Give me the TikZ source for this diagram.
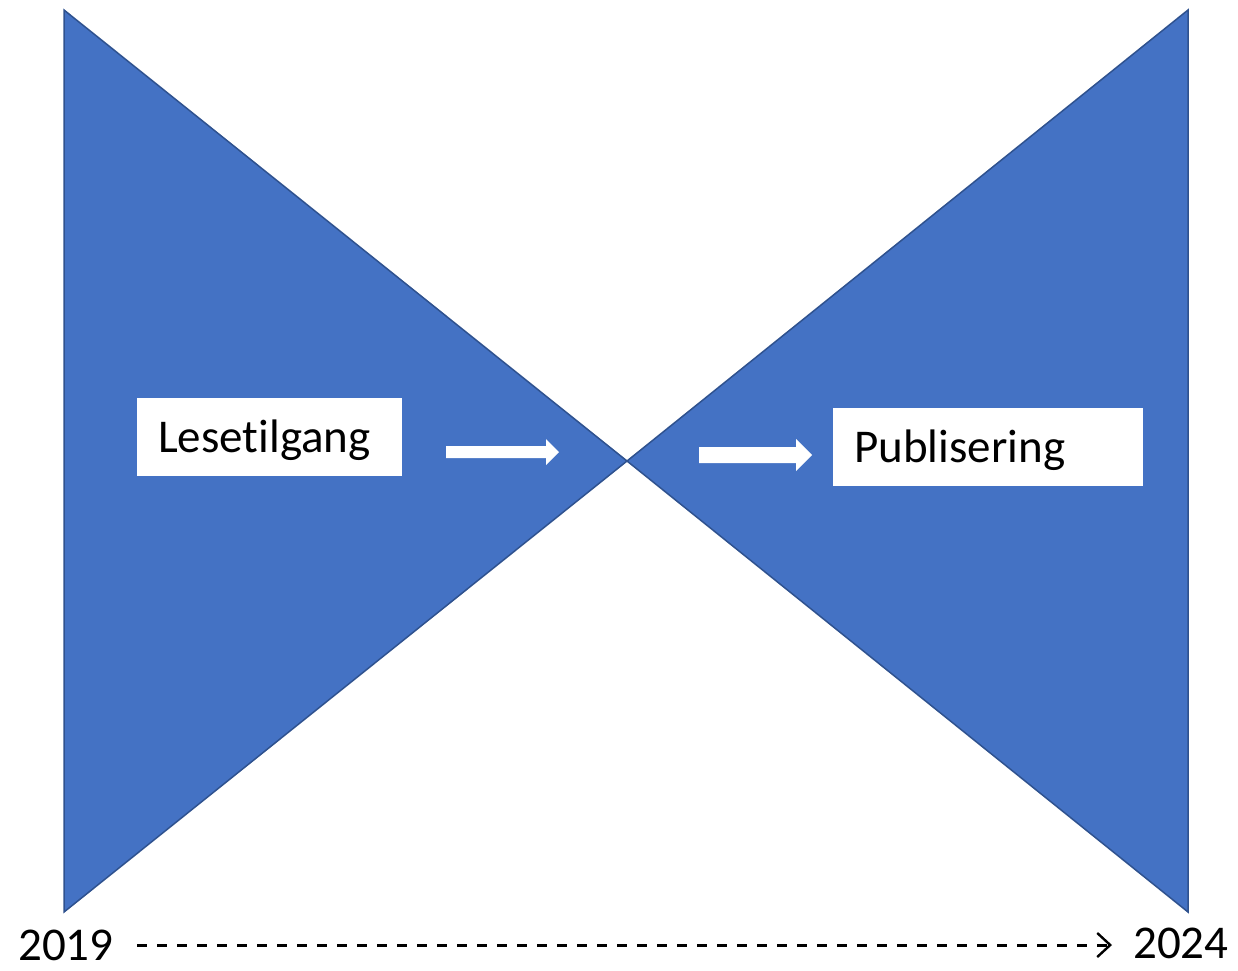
\documentclass[tikz,border=0pt]{standalone}
\usepackage{fontspec}
\setmainfont[Ligatures=NoCommon]{Carlito}
\usetikzlibrary{arrows.meta}
\definecolor{tri}{HTML}{4472C4}
\definecolor{triedge}{HTML}{2F528F}
\begin{document}
\begin{tikzpicture}[x=1pt,y=-1pt,
  tri/.style={fill=tri,draw=triedge,line width=1.5pt,line join=miter},
  boxtext/.style={anchor=base west,inner sep=0pt,font=\fontsize{47}{56}\selectfont},
  arr/.style={fill=white,draw=none},
  year/.style={inner sep=0pt,font=\fontsize{47}{56}\selectfont}]
\useasboundingbox (0,0) rectangle (1238,970);
\coordinate (c) at (627,461);
\filldraw[tri] (64,10) -- (64,912) -- (c) -- cycle;
\filldraw[tri] (1188,10) -- (1188,912) -- (c) -- cycle;
\fill[white] (137,398) rectangle (402,476);
\fill[white] (833,408) rectangle (1143,486);
\node[boxtext] (les) at (158,452) {Leset\kern0pt ilgang};
\node[boxtext] (pub) at (854,462) {Publisering};
\fill[arr] (446,446) -- (546,446) -- (546,439) -- (559,452) -- (546,465) -- (546,458) -- (446,458) -- cycle;
\fill[arr] (699,447) -- (796,447) -- (796,439) -- (812,455) -- (796,471) -- (796,463) -- (699,463) -- cycle;
\node[year,anchor=base west] (y1) at (18,960) {2019};
\node[year,anchor=base west] (y2) at (1133,958) {2024};
\coordinate (ds) at (137,945);
\coordinate (de) at (1112,945);
\draw[line width=3pt,dash pattern=on 10pt off 10pt,-{Straight Barb[length=13pt,width=24pt,line width=2.4pt]}] (ds) -- (de);
\end{tikzpicture}
\end{document}
